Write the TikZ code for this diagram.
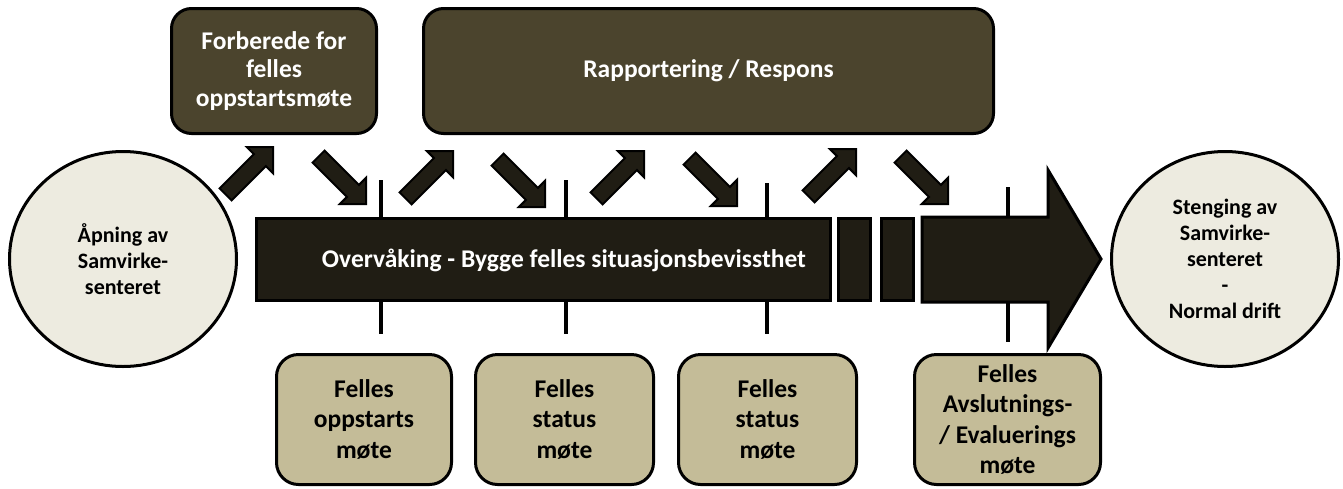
\documentclass[tikz,border=0pt]{standalone}
\usepackage{fontspec}
\setmainfont{Carlito}
\usetikzlibrary{shapes.geometric}
\definecolor{topfill}{HTML}{4B442D}
\definecolor{barfill}{HTML}{201D14}
\definecolor{botfill}{HTML}{C4BC98}
\definecolor{circfill}{HTML}{EDEBE0}
\tikzset{
  topbox/.style={draw=black, line width=3pt, fill=topfill, rounded corners=20pt,
    text=white, font=\bfseries\fontsize{25.5}{28.5}\selectfont, align=center,
    inner sep=0pt, minimum height=125pt},
  botbox/.style={draw=black, line width=3pt, fill=botfill, rounded corners=22pt,
    text=black, font=\bfseries\fontsize{25.5}{30.5}\selectfont, align=center,
    inner sep=0pt, minimum height=130pt},
  circbox/.style={ellipse, draw=black, line width=3pt, fill=circfill,
    minimum width=227pt, minimum height=215pt, inner sep=0pt,
    font=\bfseries\fontsize{22}{26}\selectfont, align=center},
  barbox/.style={draw=black, line width=3pt, fill=barfill, inner sep=0pt,
    minimum height=82pt},
  tickline/.style={draw=black, line width=4pt},
  pics/barrow/.style={code={
    \draw[line width=2pt, fill=barfill, line join=miter]
      (0,0) -- (-18.5,18.5) -- (-18.5,8.5) -- (-67,8.5) -- (-67,-8.5)
      -- (-18.5,-8.5) -- (-18.5,-18.5) -- cycle;}}
}
\begin{document}
\begin{tikzpicture}[x=1pt,y=-1pt]
\useasboundingbox (0,0) rectangle (1343,488);

% circles
\node[circbox] (open) at (123,259) {Åpning av\\Samvirke-\\senteret};
\node[circbox] (close) at (1225,259) {Stenging av\\Samvirke-\\senteret\\-\\Normal drift};

% top boxes
\node[topbox, minimum width=205pt] (prep) at (274,71) {Forberede for\\felles\\oppstartsmøte};
\node[topbox, minimum width=570pt] (rapp) at (708.5,71) {Rapportering / Respons};

% ticks
\coordinate (t1a) at (381,180); \coordinate (t1b) at (381,334);
\coordinate (t2a) at (566,180); \coordinate (t2b) at (566,334);
\coordinate (t3a) at (767,183); \coordinate (t3b) at (767,334);
\coordinate (t4a) at (1008,187); \coordinate (t4b) at (1008,342);
\draw[tickline] (t1a) -- (t1b);
\draw[tickline] (t2a) -- (t2b);
\draw[tickline] (t3a) -- (t3b);
\draw[tickline] (t4a) -- (t4b);

% main bar
\node[barbox, minimum width=574pt] (bar) at (543.5,259.5) {};
\node[barbox, minimum width=32pt] (blk1) at (854.5,259.5) {};
\node[barbox, minimum width=32pt] (blk2) at (897.5,259.5) {};
\draw[line width=3pt, fill=barfill, line join=miter]
  (922,217) -- (1048,217) -- (1048,170) -- (1101,259) -- (1048,348)
  -- (1048,302) -- (922,302) -- cycle;
\node[text=white, font=\bfseries\fontsize{25.5}{25}\selectfont] (bartext) at (564,260)
  {Overvåking - Bygge felles situasjonsbevissthet};

% bottom boxes
\node[botbox, minimum width=175pt] (m1) at (364,419.5) {Felles\\oppstarts\\møte};
\node[botbox, minimum width=178pt] (m2) at (564.5,419.5) {Felles\\status\\møte};
\node[botbox, minimum width=178pt] (m3) at (767.5,419.5) {Felles\\status\\møte};
\node[botbox, minimum width=186pt] (m4) at (1007.5,419.5) {Felles\\Avslutnings-\\/ Evaluerings\\møte};

% diagonal block arrows
\pic[rotate=45]  at (273,147) {barrow};
\pic[rotate=-45] at (366,204) {barrow};
\pic[rotate=45]  at (453,151) {barrow};
\pic[rotate=-45] at (545,207) {barrow};
\pic[rotate=45]  at (644,151) {barrow};
\pic[rotate=-45] at (737,206) {barrow};
\pic[rotate=45]  at (856,149) {barrow};
\pic[rotate=-45] at (948,204) {barrow};
\end{tikzpicture}
\end{document}
